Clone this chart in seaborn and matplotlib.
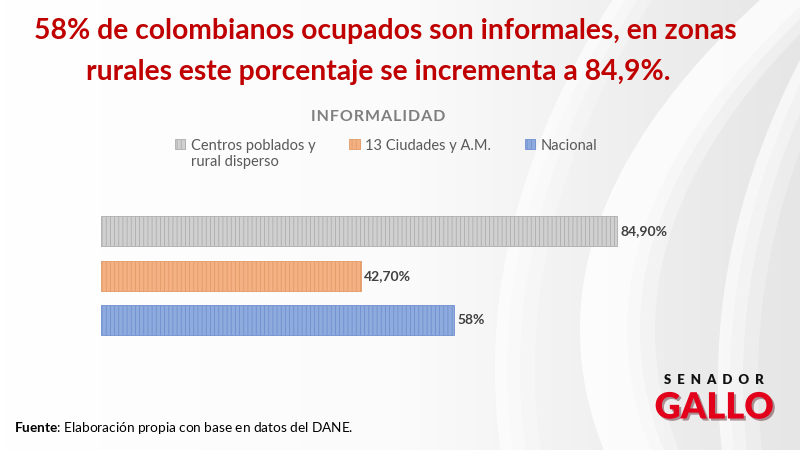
import numpy as np
import pandas as pd
import matplotlib
matplotlib.use("Agg")
import matplotlib.pyplot as plt
import matplotlib.patheffects as pe
from matplotlib.patches import Patch
import seaborn as sns

categorias = ["Centros poblados y\nrural disperso", "13 Ciudades y A.M.", "Nacional"]
valores = [84.9, 42.7, 58.0]
etiquetas = ["84,90%", "42,70%", "58%"]
colores = ["#d0d0d0", "#f4b183", "#8faadc"]
bordes = ["#adadad", "#e39a66", "#6f8fd0"]

df = pd.DataFrame({"categoria": categorias, "valor": valores})

sns.set_theme(style="white")
plt.rcParams["font.family"] = ["Lato", "DejaVu Sans"]
plt.rcParams["mathtext.fontset"] = "custom"
plt.rcParams["mathtext.rm"] = "Lato"
plt.rcParams["mathtext.bf"] = "Lato:bold"
plt.rcParams["hatch.linewidth"] = 0.6

fig = plt.figure(figsize=(8, 4.5), dpi=100)

# fondo: degradado gris claro con arcos blancos
bg = fig.add_axes([0, 0, 1, 1], zorder=0)
xx = np.linspace(0, 1, 400)
grad = np.tile(xx, (200, 1))
bg.imshow(grad, extent=[0, 800, 450, 0],
          cmap=sns.blend_palette(["#ffffff", "#fbfbfb", "#e6e6e6"], as_cmap=True),
          aspect="auto", vmin=0, vmax=1)
yy = np.linspace(0, 450, 200)


def arco(y0, x0, yv, xv):
    # parabola x(y) que pasa por (y0, x0) con vertice en (yv, xv)
    a = (x0 - xv) / (y0 - yv) ** 2
    return xv + a * (yy - yv) ** 2


a1 = arco(80, 567, 370, 495)
a2 = arco(0, 770, 330, 590)
a3 = arco(60, 800, 380, 718)
for w, al in [(40, 0.25), (25, 0.35), (12, 0.4)]:
    bg.fill_betweenx(yy, a1, a1 + w, color="white", alpha=al, lw=0)
    bg.fill_betweenx(yy, a2 - 10, a2 + w + 25, color="white", alpha=al + 0.1, lw=0)
    bg.fill_betweenx(yy, a3, a3 + w, color="white", alpha=al, lw=0)
bg.set_xlim(0, 800)
bg.set_ylim(450, 0)
bg.axis("off")

ax = fig.add_axes([101 / 800, 1 - 342.5 / 450, 600 / 800, 133.5 / 450], zorder=1)
ax.patch.set_alpha(0)
sns.barplot(data=df, y="categoria", x="valor", hue="categoria", palette=colores,
            orient="h", width=0.67, legend=False, ax=ax, saturation=1)
for bar, ec in zip(ax.patches, bordes):
    bar.set_edgecolor(ec)
    bar.set_hatch("||||")
    bar.set_linewidth(0.6)
for bar, lab in zip(ax.patches, etiquetas):
    ax.text(bar.get_width() + 0.6, bar.get_y() + bar.get_height() / 2, lab,
            va="center", ha="left", fontsize=10, fontweight="bold", color="#404040")
ax.set_xlim(0, 600 / 6.08)
ax.set_ylim(2.5, -0.5)
ax.axis("off")

# leyenda
handles = [Patch(facecolor=c, edgecolor=e, hatch="||||", lw=0.6) for c, e in zip(colores, bordes)]
leg = fig.legend(handles, categorias, loc="upper left", bbox_to_anchor=(162 / 800, 1 - 126 / 450),
                 ncol=3, frameon=False, fontsize=10.5, labelcolor="#595959", handlelength=0.7,
                 handleheight=0.7, handletextpad=0.4, columnspacing=2.3)
leg._legend_handle_box.align = "top"
for col in leg._legend_handle_box.get_children():
    col.align = "left"
    for item in col.get_children():
        item.align = "top"

fig.text(378 / 800, 1 - 117 / 450, "\u200a".join("INFORMALIDAD"), ha="center", va="center",
         fontsize=11.5, fontweight="bold", color="#7f7f7f")

fig.text(385 / 800, 1 - 31 / 450, "58% de colombianos ocupados son informales, en zonas", ha="center",
         va="center", fontsize=20.3, fontweight="bold", color="#c00000")
fig.text(378 / 800, 1 - 72 / 450, "rurales este porcentaje se incrementa a 84,9%.", ha="center",
         va="center", fontsize=20.3, fontweight="bold", color="#c00000")

fig.text(14 / 800, 1 - 428 / 450, r"$\bf{Fuente}$: Elaboración propia con base en datos del DANE.",
         ha="left", va="center", fontsize=9.8, color="#000000")

# logo
fig.text(714 / 800, 1 - 380 / 450, "  ".join("SENADOR"), ha="center", va="center", fontsize=9.5,
         fontweight="heavy", color="#111111")
fig.text(714 / 800, 1 - 408 / 450, "GALLO", ha="center", va="center", fontsize=26,
         fontweight="heavy", color="#e3001b",
         path_effects=[pe.SimplePatchShadow(offset=(1.5, -1.5), alpha=0.4), pe.Normal()])

fig.savefig("out.png", dpi=100)
